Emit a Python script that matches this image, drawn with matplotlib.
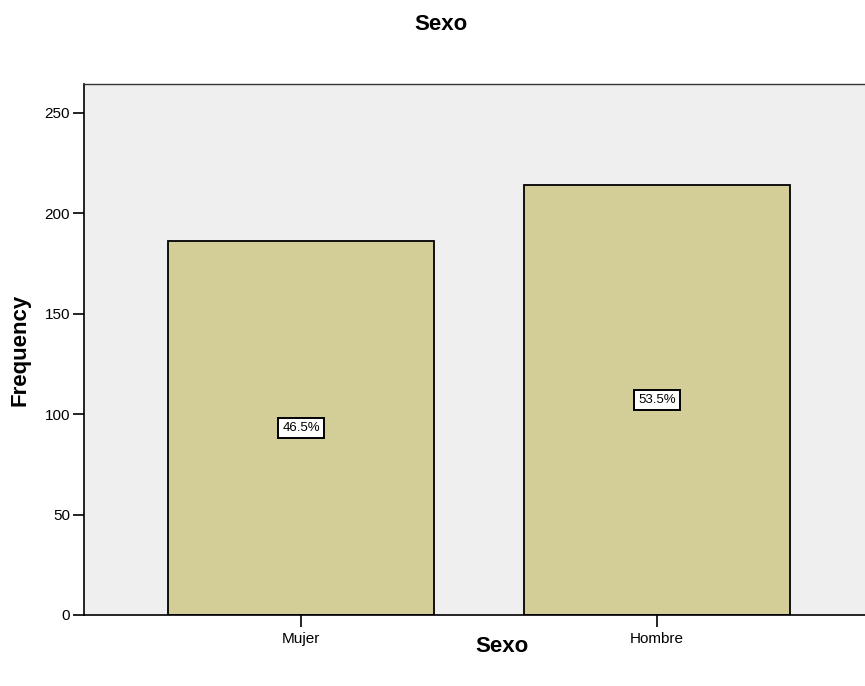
import matplotlib.pyplot as plt
import numpy as np

plt.rcParams['font.family'] = ['Liberation Sans', 'DejaVu Sans']

# Data
categories = ['Mujer', 'Hombre']
counts = [186, 214]
percents = ['46.5%', '53.5%']
y_ticks = [0, 50, 100, 150, 200, 250]

fig = plt.figure(figsize=(8.65, 6.86), dpi=100)
ax = fig.add_axes([84 / 865, 71 / 686, 781 / 865, 531 / 686])
ax.set_facecolor('#EFEFEF')

x = np.arange(len(categories))
ax.bar(x, counts, width=0.747, color='#D3CE98', edgecolor='black', linewidth=1.3, zorder=2)

# Percent labels in the middle of each bar
for xi, c, p in zip(x, counts, percents):
    ax.text(xi, c / 2, p, ha='center', va='center', fontsize=9.5, zorder=3,
            bbox=dict(boxstyle='square,pad=0.3', facecolor='white', edgecolor='black', linewidth=1.4))

ax.set_xlim(-0.61, 1.584)
ax.set_ylim(0, 264.4)
ax.set_xticks(x)
ax.set_xticklabels(categories, fontsize=11)
ax.set_yticks(y_ticks)
ax.tick_params(axis='y', direction='out', length=8, width=1.2, labelsize=11, pad=2)
ax.tick_params(axis='x', direction='out', length=8.5, width=1.2, labelsize=11, pad=4)

for side in ['left', 'bottom']:
    ax.spines[side].set_linewidth(1.2)
    ax.spines[side].set_color('black')
ax.spines['top'].set_linewidth(1.0)
ax.spines['top'].set_color('#333333')
ax.spines['right'].set_visible(False)

fig.text(441 / 865, 1 - 25 / 686, 'Sexo', ha='center', va='center', fontsize=16, fontweight='bold')
fig.text(502 / 865, 1 - 647 / 686, 'Sexo', ha='center', va='center', fontsize=16, fontweight='bold')
fig.text(20 / 865, 1 - 350 / 686, 'Frequency', ha='center', va='center', rotation=90,
         fontsize=16, fontweight='bold')

plt.savefig('out.png', dpi=100)
